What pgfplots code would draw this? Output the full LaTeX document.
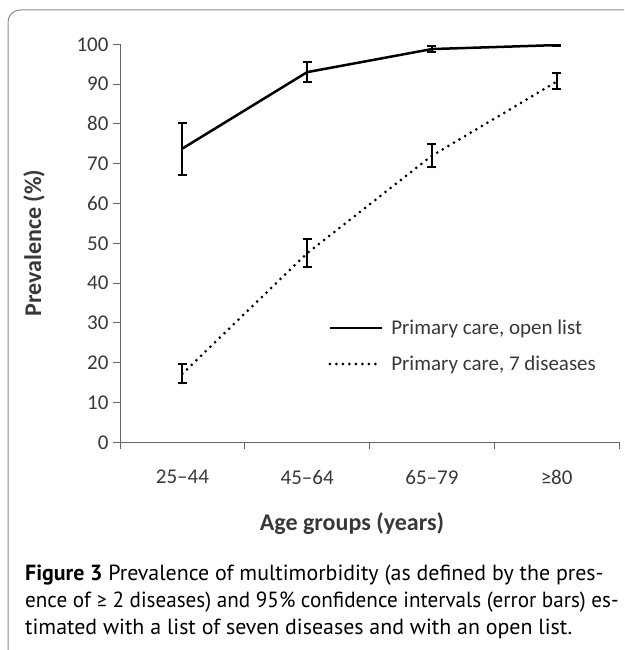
\documentclass[border=0pt]{standalone}
\usepackage{fontspec}
\setmainfont{Carlito}
\newfontfamily\capfont{PT Sans}
\usepackage{pgfplots}
\pgfplotsset{compat=1.18}

\pgfplotsset{
  ebars/.style={
    error bars/y dir=both,
    error bars/y explicit,
    error bars/error bar style={solid, line width=2pt},
    error bars/error mark options={rotate=90, mark size=4.5pt, line width=2pt, solid},
  },
}

\begin{document}
\begin{tikzpicture}
\useasboundingbox (0pt,0pt) rectangle (624pt,650pt);
\begin{scope}
\clip (0pt,0pt) rectangle (624pt,650pt);
\draw[black!45, line width=1pt, rounded corners=12pt] (8pt,-40pt) -- (8pt,640pt) -- (700pt,640pt);
\end{scope}

\begin{axis}[
  at={(120pt,207.7pt)}, anchor=south west,
  scale only axis, width=499pt, height=398pt,
  xmin=-0.5, xmax=3.5, ymin=0, ymax=100,
  axis x line*=bottom, axis y line*=left,
  axis line style={black!60, line width=1pt},
  xtick={0,1,2,3},
  xticklabels={25--44,45--64,65--79,≥80},
  major x tick style={draw=none},
  minor xtick={-0.5,0.5,1.5,2.5,3.5},
  minor tick length=7pt,
  ytick={0,10,...,100},
  major tick length=7pt,
  tick align=outside,
  tick style={black!60, line width=1pt},
  /pgf/number format/assume math mode=true,
  tick label style={font=\fontsize{21}{25}\selectfont, text=black!78},
  xticklabel style={yshift=-17pt},
  yticklabel style={xshift=-1pt},
  legend style={
    at={(0.417,0.242)}, anchor=west,
    draw=none, fill=none, inner sep=0pt,
    font=\fontsize{21}{25}\selectfont,
    text=black!78,
    row sep=16pt, column sep=6pt,
  },
  legend cell align=left,
  legend image code/.code={\draw[#1] (0pt,0pt) -- (52pt,0pt);},
]
\addplot[black, line width=2.5pt, mark=none, ebars] table[x=x, y=y, y error plus=ep, y error minus=em] {
x y ep em
0 73.8 6.5 6.6
1 93.0 2.5 2.6
2 98.8 0.8 0.8
3 99.8 0.25 0.25
};
\addlegendentry{Primary care, open list}
\addplot[black, line width=3pt, line cap=round, dash pattern=on 0pt off 6.5pt, mark=none, ebars] table[x=x, y=y, y error plus=ep, y error minus=em] {
x y ep em
0 17.2 2.4 2.4
1 47.5 3.5 3.4
2 72.0 2.9 2.9
3 90.6 2.1 1.8
};
\addlegendentry{Primary care, 7 diseases}
\end{axis}

\node[rotate=90, font=\bfseries\fontsize{24}{28}\selectfont, text=black!78] at (34pt,407pt) {Prevalence (\%)};
\node[font=\bfseries\fontsize{24}{28}\selectfont, text=black!78] at (352pt,126pt) {Age groups (years)};

\begin{scope}[every node/.style={anchor=base west, inner sep=0pt, font=\capfont\fontsize{21.9}{27}\selectfont}]
\node at (25pt,69pt) {\textbf{Figure 3} Prevalence of multimorbidity (as defined by the pres-};
\node at (25pt,42pt) {\scalebox{0.965}[1]{ence of {\rmfamily ≥} 2 diseases) and 95\% confidence intervals (error bars) es-}};
\node at (25pt,15pt) {timated with a list of seven diseases and with an open list.};
\end{scope}
\end{tikzpicture}
\end{document}
